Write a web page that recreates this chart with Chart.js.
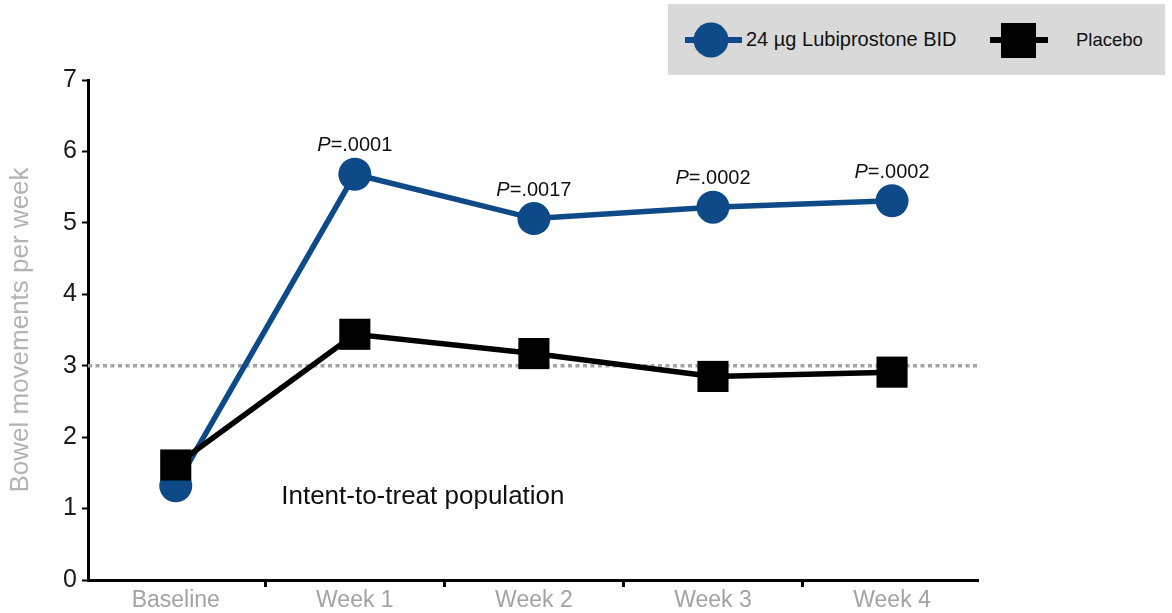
<!DOCTYPE html>
<html lang="en">
<head>
  <meta charset="UTF-8">
  <title>Bowel movements per week</title>
  <script src="https://cdn.jsdelivr.net/npm/chart.js"></script>
  <style>
    body { margin: 0; background: #fff; font-family: "Liberation Sans", Arial, sans-serif; }
    #wrap { position: relative; width: 1172px; height: 613px; }
    #legendBox {
      position: absolute; left: 668px; top: 4px; width: 497px; height: 71px;
      background: #d9d9d9;
    }
    .item { position: absolute; top: 0; height: 71px; display: flex; align-items: center; }
    .item span { color: #111; }
  </style>
</head>
<body>
  <div id="wrap">
    <canvas id="bmChart" width="1172" height="613"></canvas>
    <!-- legend -->
    <div id="legendBox">
      <div class="item" style="left:16px">
        <svg width="60" height="40" viewBox="0 0 60 40">
          <line x1="1" y1="20" x2="58" y2="20" stroke="#0f4a88" stroke-width="6"/>
          <circle cx="27" cy="20" r="17.5" fill="#0f4a88"/>
        </svg>
        <span style="margin-left:2px;font-size:20px">24 µg Lubiprostone BID</span>
      </div>
      <div class="item" style="left:321px">
        <svg width="60" height="40" viewBox="0 0 60 40">
          <line x1="1" y1="20" x2="59" y2="20" stroke="#000" stroke-width="6"/>
          <rect x="12" y="3" width="35" height="35" fill="#000"/>
        </svg>
        <span style="margin-left:27px;font-size:18.5px">Placebo</span>
      </div>
    </div>
  </div>

  <script>
    const categories = ['Baseline', 'Week 1', 'Week 2', 'Week 3', 'Week 4'];
    const lubiprostone = [1.32, 5.68, 5.06, 5.22, 5.31];
    const placebo = [1.61, 3.44, 3.17, 2.85, 2.91];
    const pValues = ['', '.0001', '.0017', '.0002', '.0002'];
    const yTicks = [0, 1, 2, 3, 4, 5, 6, 7];
    const reference = 3;

    const BLUE = '#0f4a88';
    const FONT = '"Liberation Sans", Arial';
    const xMin = -0.49, xMax = 4.48;

    const toPoints = arr => arr.map((v, i) => ({ x: i, y: v }));

    // P values and the note text
    const extras = {
      id: 'extras',
      afterDatasetsDraw(chart) {
        const { ctx, scales: { x, y } } = chart;
        ctx.save();
        ctx.fillStyle = '#111';
        ctx.textAlign = 'left';
        ctx.textBaseline = 'alphabetic';
        pValues.forEach((p, i) => {
          if (!p) return;
          const px = x.getPixelForValue(i);
          const py = y.getPixelForValue(lubiprostone[i]) - 23;
          ctx.font = 'italic 20px ' + FONT;
          const w1 = ctx.measureText('P').width;
          ctx.font = '20px ' + FONT;
          const rest = '=' + p;
          const w2 = ctx.measureText(rest).width;
          const start = px - (w1 + w2) / 2;
          ctx.font = 'italic 20px ' + FONT;
          ctx.fillText('P', start, py);
          ctx.font = '20px ' + FONT;
          ctx.fillText(rest, start + w1, py);
        });
        ctx.font = '26px ' + FONT;
        ctx.textAlign = 'center';
        ctx.textBaseline = 'middle';
        ctx.fillText('Intent-to-treat population', x.getPixelForValue(1.38), y.getPixelForValue(1.16));
        ctx.restore();
      }
    };

    new Chart(document.getElementById('bmChart'), {
      type: 'line',
      data: {
        datasets: [
          {
            label: 'ref',
            data: [{ x: xMin, y: reference }, { x: xMax, y: reference }],
            borderColor: '#a4a4a4',
            borderWidth: 3.5,
            borderDash: [4, 3.5],
            pointRadius: 0,
            order: 3
          },
          {
            label: 'Placebo',
            data: toPoints(placebo),
            borderColor: '#000',
            backgroundColor: '#000',
            borderWidth: 5.5,
            pointStyle: 'rect',
            pointRadius: 22,
            pointBorderWidth: 0,
            clip: false,
            order: 1
          },
          {
            label: '24 µg Lubiprostone BID',
            data: toPoints(lubiprostone),
            borderColor: BLUE,
            backgroundColor: BLUE,
            borderWidth: 5.5,
            pointStyle: 'circle',
            pointRadius: 16.5,
            pointBorderWidth: 0,
            clip: false,
            order: 2
          }
        ]
      },
      options: {
        responsive: false,
        animation: false,
        layout: { padding: { top: 80, right: 194, left: 0, bottom: 0 } },
        plugins: { legend: { display: false }, tooltip: { enabled: false } },
        scales: {
          x: {
            type: 'linear',
            min: xMin,
            max: xMax,
            afterBuildTicks: s => {
              const t = [];
              categories.forEach((c, i) => { t.push({ value: i }); if (i < categories.length - 1) t.push({ value: i + 0.5 }); });
              s.ticks = t;
            },
            afterFit: s => { s.height = 33; },
            border: { display: true, color: '#000', width: 3 },
            grid: {
              drawOnChartArea: false,
              tickLength: 7,
              tickWidth: 3,
              tickColor: c => Number.isInteger(c.tick.value) ? 'rgba(0,0,0,0)' : '#000'
            },
            ticks: {
              autoSkip: false,
              maxRotation: 0,
              padding: 0,
              color: '#a3a3a3',
              font: { size: 23, family: FONT },
              callback: v => Number.isInteger(v) ? categories[v] : ''
            }
          },
          y: {
            min: 0,
            max: 7,
            afterBuildTicks: s => { s.ticks = yTicks.map(v => ({ value: v })); },
            afterFit: s => { s.width = 88; },
            border: { display: true, color: '#000', width: 3 },
            grid: { drawOnChartArea: false, tickLength: 6, tickWidth: 2, tickColor: '#000' },
            ticks: {
              color: '#1a1a1a',
              padding: 5,
              font: { size: 25, family: FONT }
            },
            title: {
              display: true,
              text: 'Bowel movements per week',
              color: '#b3b3b3',
              padding: { top: 5, bottom: 0 },
              font: { size: 26, family: FONT }
            }
          }
        }
      },
      plugins: [extras]
    });
  </script>
</body>
</html>
